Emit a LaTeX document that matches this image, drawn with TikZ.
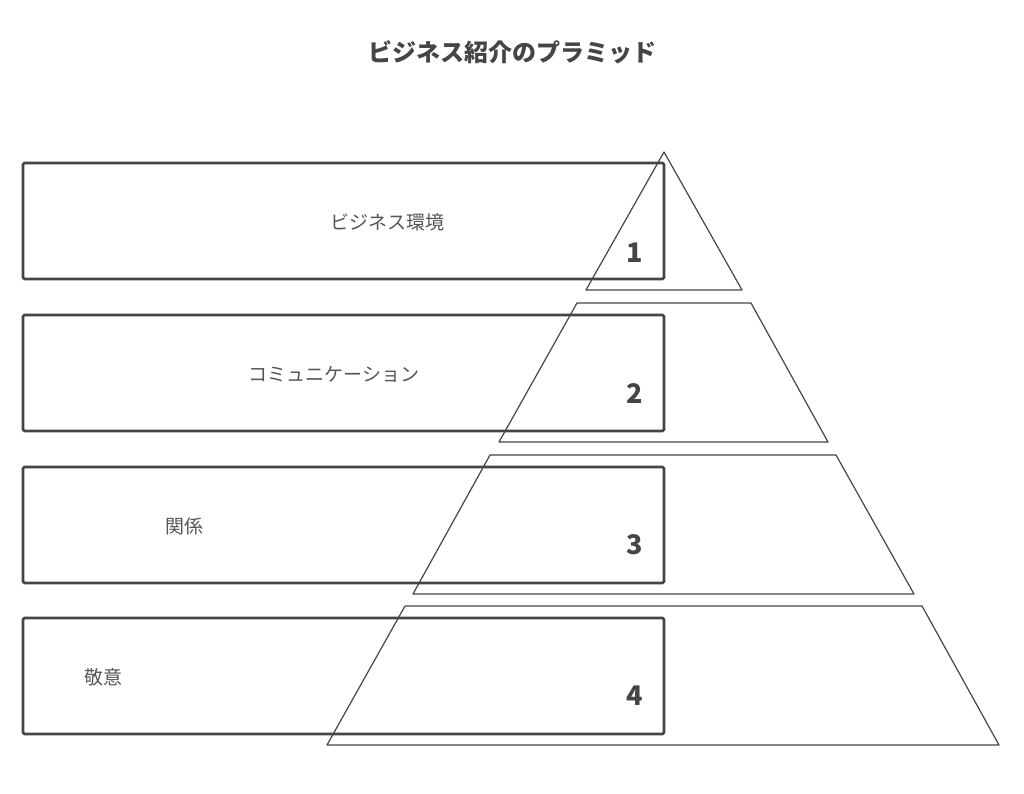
\documentclass[tikz,border=0pt]{standalone}
\usepackage{fontspec}
\newfontfamily\cjk{Noto Sans CJK JP}
\usetikzlibrary{positioning}
\definecolor{ink}{HTML}{454545}
\definecolor{textgray}{HTML}{555555}

\begin{document}
\begin{tikzpicture}[x=1pt,y=-1pt,
  box/.style={draw=ink, line width=2.6pt, rounded corners=1.5pt, minimum width=641pt, minimum height=116pt, inner sep=0pt},
  layer/.style={draw=ink, line width=1.2pt, line join=round},
  lbl/.style={font=\cjk\fontsize{19}{19}\selectfont, text=textgray},
  num/.style={font=\cjk\bfseries\fontsize{27}{27}\selectfont, text=ink}]
  \useasboundingbox (0,0) rectangle (1024,793);

  \node [font=\cjk\bfseries\fontsize{24}{24}\selectfont, text=ink] (title) at (512,52) {ビジネス紹介のプラミッド};

  % boxes
  \node [box] (box1) at (343.5,221) {};
  \node [box] (box2) at (343.5,373) {};
  \node [box] (box3) at (343.5,525) {};
  \node [box] (box4) at (343.5,676) {};

  \node [lbl] (l1) at (387,222) {ビジネス環境};
  \node [lbl] (l2) at (334,374) {コミュニケーション};
  \node [lbl] (l3) at (184,526) {関係};
  \node [lbl] (l4) at (103,677) {敬意};

  % pyramid
  \draw [layer] (664,152) -- (742,290) -- (586,290) -- cycle;
  \draw [layer] (577,303) -- (751,303) -- (828,442) -- (499,442) -- cycle;
  \draw [layer] (490,455) -- (836,455) -- (914,594) -- (413,594) -- cycle;
  \draw [layer] (405,606) -- (922,606) -- (999,745) -- (327,745) -- cycle;

  \node [num] (n1) at (635,253) {1};
  \node [num] (n2) at (635,393) {2};
  \node [num] (n3) at (635,545) {3};
  \node [num] (n4) at (635,696) {4};
\end{tikzpicture}
\end{document}
